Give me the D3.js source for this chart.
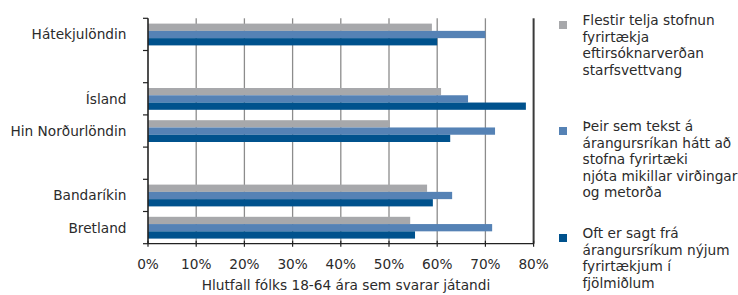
<!DOCTYPE html>
<html>
<head>
<meta charset="utf-8">
<script src="https://cdn.jsdelivr.net/npm/d3@7"></script>
<style>
  body { margin: 0; background: #fff; }
  svg text { font-family: "DejaVu Sans", sans-serif; fill: #2b2b2b; }
</style>
</head>
<body>
<div id="chart"></div>
<script>
// "_a" / "_b" are the empty rows between the groups
var categories = ["Hátekjulöndin", "_a", "Ísland", "Hin Norðurlöndin", "_b", "Bandaríkin", "Bretland"];
var seriesNames = [
  ["Flestir telja stofnun", "fyrirtækja", "eftirsóknarverðan", "starfsvettvang"],
  ["Þeir sem tekst á", "árangursríkan hátt að", "stofna fyrirtæki", "njóta mikillar virðingar", "og metorða"],
  ["Oft er sagt frá", "árangursríkum nýjum", "fyrirtækjum í", "fjölmiðlum"]
];
var starfsvettvang = [58.9, null, 60.8, 50.2, null, 57.9, 54.4];
var virding       = [70.0, null, 66.4, 72.0, null, 63.1, 71.4];
var fjolmidlar    = [60.0, null, 78.4, 62.7, null, 59.1, 55.4];
var xTicks = [0, 10, 20, 30, 40, 50, 60, 70, 80];
var colors = ["#a7a8ab", "#5582b5", "#00528d"];
var axisTitle = "Hlutfall fólks 18-64 ára sem svarar játandi";

var W = 738, H = 295,
    margin = { top: 18.3, left: 148, right: 204.4, bottom: 51.3 },
    width = W - margin.left - margin.right,
    height = H - margin.top - margin.bottom;

var svg = d3.select("#chart").append("svg")
    .attr("width", W).attr("height", H);
var g = svg.append("g")
    .attr("transform", "translate(" + margin.left + "," + margin.top + ")");

var x = d3.scaleLinear().domain([0, 80]).range([0, width]);
var y = d3.scaleBand().domain(categories).range([0, height]);
var y1 = d3.scaleBand().domain([0, 1, 2])
    .range([5.3, y.bandwidth() - 5.1]);

// vertical grid lines
g.selectAll(".grid").data(xTicks.slice(1))
  .enter().append("line")
    .attr("class", "grid")
    .attr("x1", d => x(d)).attr("x2", d => x(d))
    .attr("y1", 0).attr("y2", height)
    .attr("stroke", d => d == 80 ? "#3a3a3a" : "#8c8c8c")
    .attr("stroke-width", d => d == 80 ? 2 : 1.3);

var series = [starfsvettvang, virding, fjolmidlar];
var data = [];
categories.forEach(function(c, i) {
  series.forEach(function(s, j) {
    if (s[i] != null) data.push({ cat: c, s: j, value: s[i] });
  });
});

g.selectAll(".bar").data(data)
  .enter().append("rect")
    .attr("class", "bar")
    .attr("x", 0)
    .attr("y", d => y(d.cat) + y1(d.s))
    .attr("width", d => x(d.value))
    .attr("height", y1.bandwidth())
    .attr("fill", d => colors[d.s]);

// y axis line and boundary ticks
g.append("line")
    .attr("x1", 0).attr("x2", 0).attr("y1", 0).attr("y2", height)
    .attr("stroke", "#222").attr("stroke-width", 1.6);
var bounds = categories.map(c => y(c)).concat([height]);
g.selectAll(".ytick").data(bounds)
  .enter().append("line")
    .attr("x1", -5).attr("x2", 0)
    .attr("y1", d => d).attr("y2", d => d)
    .attr("stroke", "#222").attr("stroke-width", 1.2);

g.selectAll(".catLabel").data(categories.filter(c => c[0] != "_"))
  .enter().append("text")
    .attr("x", -21.5)
    .attr("y", d => y(d) + y.bandwidth() / 2 + 5)
    .attr("text-anchor", "end")
    .style("font-size", "13.7px")
    .text(d => d);

// x axis
var xAxis = g.append("g").attr("transform", "translate(0," + height + ")");
xAxis.append("line")
    .attr("x1", 0).attr("x2", width)
    .attr("stroke", "#222").attr("stroke-width", 1.2);
xAxis.selectAll(".xtick").data(xTicks)
  .enter().append("line")
    .attr("x1", d => x(d)).attr("x2", d => x(d))
    .attr("y1", -3).attr("y2", 3)
    .attr("stroke", "#222").attr("stroke-width", 1.2);
xAxis.selectAll(".xlabel").data(xTicks)
  .enter().append("text")
    .attr("x", d => x(d))
    .attr("y", 25)
    .attr("text-anchor", "middle")
    .style("font-size", "13.7px")
    .text(d => d + "%");
svg.append("text")
    .attr("x", 346).attr("y", 290)
    .attr("text-anchor", "middle")
    .style("font-size", "13.7px")
    .text(axisTitle);

// legend
var legendTop = [21, 127, 234];
var legend = svg.selectAll(".legend").data(seriesNames)
  .enter().append("g")
    .attr("class", "legend")
    .attr("transform", (d, i) => "translate(559," + legendTop[i] + ")");
legend.append("rect")
    .attr("width", 8).attr("height", 8)
    .attr("fill", (d, i) => colors[i]);
legend.each(function(lines) {
  d3.select(this).selectAll("text").data(lines)
    .enter().append("text")
      .attr("x", 23.5)
      .attr("y", (d, i) => 4 + i * 16.6)
      .style("font-size", "13.7px")
      .text(d => d);
});
</script>
</body>
</html>
